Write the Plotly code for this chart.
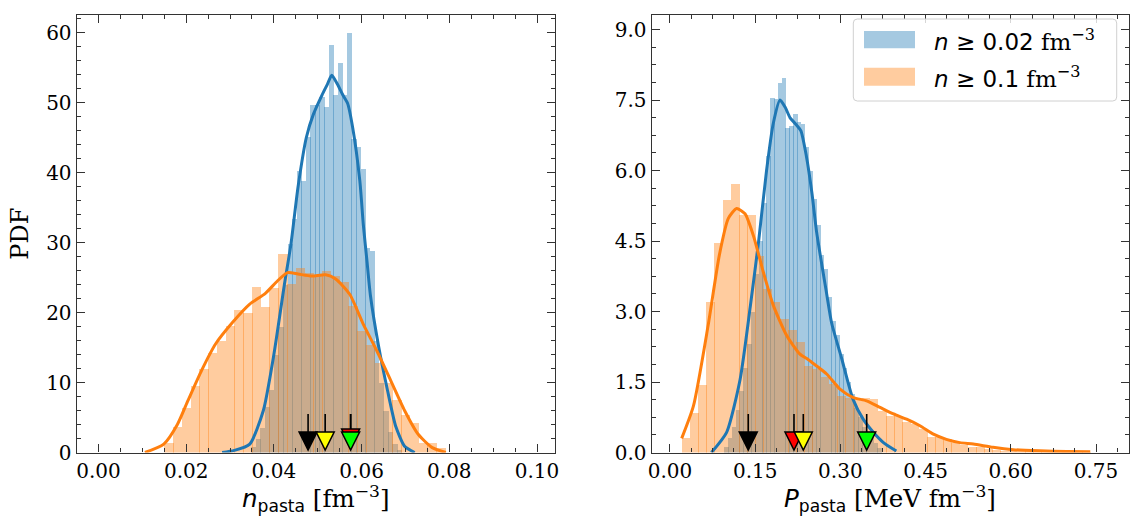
import numpy as np
import plotly.graph_objects as go

W, H = 1133, 521

# ---------------- data ----------------
# Left panel: n_pasta  (densities of histogram bins)
n_all_bin_start = 0.0348
n_all_bin_width = 0.00104
n_all_density = [0.8, 2.0, 3.5, 6.5, 9.0, 14.0, 18.0, 24.0, 29.8, 33.3, 40.2, 38.8,
                 45.1, 49.6, 49.7, 50.8, 49.3, 58.2, 51.1, 55.6, 51.1, 59.9, 44.8,
                 43.7, 40.5, 29.2, 28.8, 16.0, 10.0, 6.0, 3.0, 1.2, 0.4]
n_high_bin_start = 0.0150
n_high_bin_width = 0.0020
n_high_density = [1.3, 3.7, 6.4, 9.5, 11.9, 14.2, 16.0, 18.1, 20.4, 20.0, 23.7, 20.8,
                  23.5, 28.4, 24.1, 26.3, 25.7, 25.2, 26.0, 25.2, 24.4, 21.0, 17.4,
                  15.3, 12.8, 9.9, 7.5, 5.4, 4.2, 1.4, 1.4, 0.7]
n_all_kde_x = [0.0282, 0.0310, 0.0345, 0.0376, 0.0400, 0.0424, 0.0439, 0.0455, 0.0474,
               0.0490, 0.0510, 0.0522, 0.0532, 0.0545, 0.0557, 0.0568, 0.0580, 0.0596,
               0.0604, 0.0612, 0.0620, 0.0639, 0.0659, 0.0678, 0.0698, 0.0721]
n_all_kde_y = [0.0, 0.3, 1.2, 6.0, 14.0, 24.0, 29.8, 37.9, 45.0, 48.3, 51.1, 52.6, 53.9,
               52.6, 51.1, 49.9, 46.3, 38.8, 32.5, 27.5, 22.5, 15.1, 8.9, 3.7, 0.9, 0.0]
n_high_kde_x = [0.0106, 0.0149, 0.0180, 0.0204, 0.0235, 0.0267, 0.0306, 0.0345, 0.0380,
                0.0408, 0.0431, 0.0455, 0.0486, 0.0518, 0.0541, 0.0573, 0.0604, 0.0635,
                0.0667, 0.0698, 0.0729, 0.0761, 0.0792]
n_high_kde_y = [0.0, 1.2, 4.0, 7.4, 11.7, 15.5, 18.6, 21.2, 22.7, 24.5, 25.7, 25.5, 25.2,
                25.4, 24.8, 22.6, 18.3, 14.5, 10.2, 6.0, 2.6, 0.7, 0.0]

# Right panel: P_pasta
p_all_bin_start = 0.0953
p_all_bin_width = 0.00675
p_all_density = [0.12, 0.3, 0.55, 0.9, 1.3, 1.8, 2.3, 3.0, 3.8, 4.5, 5.3, 6.3, 7.55,
                 7.53, 7.86, 7.96, 6.9, 6.94, 7.21, 7.03, 7.0, 6.5, 6.0, 5.4, 4.84,
                 4.2, 3.9, 3.3, 2.8, 2.5, 2.1, 1.8, 1.5, 1.25, 0.95, 0.75, 0.55, 0.45,
                 0.3, 0.2, 0.1]
p_high_bin_start = 0.0206
p_high_bin_width = 0.01439
p_high_density = [0.31, 0.84, 1.44, 3.21, 4.46, 5.38, 5.72, 5.05, 5.06, 4.19, 3.48, 3.2,
                  2.84, 2.6, 2.36, 1.85, 1.77, 1.6, 1.45, 1.2, 1.17, 1.13, 1.15, 1.13,
                  0.89, 0.78, 0.78, 0.65, 0.6, 0.5, 0.32, 0.32, 0.28, 0.21, 0.16, 0.11,
                  0.11, 0.07, 0.06, 0.04, 0.04, 0.03, 0.03, 0.03, 0.02, 0.02, 0.03,
                  0.02, 0.01, 0.02]
p_all_kde_x = [0.0730, 0.0997, 0.1235, 0.1413, 0.1561, 0.1700, 0.1818, 0.1937, 0.2026,
               0.2115, 0.2204, 0.2303, 0.2402, 0.2501, 0.2580, 0.2755, 0.2847, 0.3025,
               0.3223, 0.3401, 0.3580, 0.3758, 0.3985]
p_all_kde_y = [0.0, 0.43, 1.56, 3.1, 4.5, 6.0, 7.0, 7.5, 7.35, 7.12, 7.0, 6.85, 6.3,
               5.5, 4.7, 3.4, 2.75, 1.99, 1.13, 0.71, 0.43, 0.21, 0.03]
p_high_kde_x = [0.0206, 0.0413, 0.0671, 0.0869, 0.1027, 0.1173, 0.1321, 0.1467, 0.1643,
                0.1819, 0.2054, 0.2283, 0.2432, 0.2582, 0.2758, 0.2993, 0.3227, 0.3461,
                0.3698, 0.3936, 0.4166, 0.4401, 0.4638, 0.4866, 0.5103, 0.5341, 0.5687,
                0.6043, 0.6508, 0.6983, 0.7399]
p_high_kde_y = [0.30, 0.99, 2.7, 4.2, 4.98, 5.19, 5.08, 4.62, 3.84, 3.13, 2.49, 2.1,
                1.98, 1.84, 1.67, 1.35, 1.17, 1.1, 0.96, 0.82, 0.71, 0.57, 0.39, 0.28,
                0.21, 0.18, 0.11, 0.06, 0.035, 0.02, 0.015]

# Reference-model markers (black, red, yellow, green)
marker_colors = ["black", "red", "yellow", "#00ff00"]
n_markers = [0.0478, 0.0575, 0.0517, 0.0575]
p_markers = [0.1378, 0.2183, 0.2347, 0.3463]

legend_labels = ['<span style="font-family:DejaVu Sans"><i>n</i> ≥ 0.02</span> fm<sup>−3</sup>',
                 '<span style="font-family:DejaVu Sans"><i>n</i> ≥ 0.1</span> fm<sup>−3</sup>']

# ---------------- geometry / style ----------------
BLUE = "#1f77b4"
ORANGE = "#ff7f0e"
BLUE_A = "rgba(31,119,180,0.4)"
ORANGE_A = "rgba(255,127,14,0.4)"

def fx(px):
    return px / W

def fy(py):
    return 1 - py / H

Y_TOP, Y_BOT = 15, 452.5
L_X0, L_X1 = 76.7, 555.0
R_X0, R_X1 = 651.7, 1129.0
L_RANGE = [-0.00496, 0.1041]
R_RANGE = [-0.0322, 0.8081]
L_YRANGE = [0, (Y_BOT - Y_TOP) / 7.0]
R_YRANGE = [0, (Y_BOT - Y_TOP) / 47.0]

fig = go.Figure()


def add_hist(start, width, dens, color, xa, ya, pxunit):
    centers = start + width * (np.arange(len(dens)) + 0.5)
    fig.add_trace(go.Bar(x=centers, y=dens, width=width + 0.6 / pxunit,
                         marker=dict(color=color, line=dict(width=0)),
                         xaxis=xa, yaxis=ya, showlegend=False, hoverinfo="skip"))


def add_kde(xs, ys, color, xa, ya):
    fig.add_trace(go.Scatter(x=xs, y=ys, mode="lines", line=dict(color=color, width=3, shape="spline", smoothing=0.6),
                             xaxis=xa, yaxis=ya, showlegend=False, hoverinfo="skip"))

lpx = (L_X1 - L_X0) / (L_RANGE[1] - L_RANGE[0])
rpx = (R_X1 - R_X0) / (R_RANGE[1] - R_RANGE[0])

add_hist(n_all_bin_start, n_all_bin_width, n_all_density, BLUE_A, "x", "y", lpx)
add_kde(n_all_kde_x, n_all_kde_y, BLUE, "x", "y")
add_hist(n_high_bin_start, n_high_bin_width, n_high_density, ORANGE_A, "x", "y", lpx)
add_kde(n_high_kde_x, n_high_kde_y, ORANGE, "x", "y")

add_hist(p_all_bin_start, p_all_bin_width, p_all_density, BLUE_A, "x2", "y2", rpx)
add_kde(p_all_kde_x, p_all_kde_y, BLUE, "x2", "y2")
add_hist(p_high_bin_start, p_high_bin_width, p_high_density, ORANGE_A, "x2", "y2", rpx)
add_kde(p_high_kde_x, p_high_kde_y, ORANGE, "x2", "y2")

shapes = []
for xref, yref, vals in (("x", "y", n_markers), ("x2", "y2", p_markers)):
    for i, (v, c) in enumerate(zip(vals, marker_colors)):
        lift = 3 if (xref == "x" and c == "red") else 0
        shapes.append(dict(type="line", xref=xref, yref=yref, xsizemode="pixel", ysizemode="pixel",
                           xanchor=v, yanchor=0, x0=0, x1=0, y0=11.5 + lift, y1=38.5,
                           line=dict(color="black", width=1.6), layer="above"))
    for i, (v, c) in enumerate(zip(vals, marker_colors)):
        lift = 3 if (xref == "x" and c == "red") else 0
        b = 2.5 + lift
        t = 20.5 + lift
        shapes.append(dict(type="path", xref=xref, yref=yref, xsizemode="pixel", ysizemode="pixel",
                           xanchor=v, yanchor=0,
                           path=f"M-9,{t} L9,{t} L0,{b} Z",
                           fillcolor=c, line=dict(color="black", width=1.5), layer="above"))

# Legend box (rounded)
lx0, ly0, lx1, ly1, r = 853.3, 19, 1116.7, 101, 4
rx, ry = r / W, r / H
p = (f"M{fx(lx0)+rx},{fy(ly0)} L{fx(lx1)-rx},{fy(ly0)} Q{fx(lx1)},{fy(ly0)} {fx(lx1)},{fy(ly0)-ry} "
     f"L{fx(lx1)},{fy(ly1)+ry} Q{fx(lx1)},{fy(ly1)} {fx(lx1)-rx},{fy(ly1)} "
     f"L{fx(lx0)+rx},{fy(ly1)} Q{fx(lx0)},{fy(ly1)} {fx(lx0)},{fy(ly1)+ry} "
     f"L{fx(lx0)},{fy(ly0)-ry} Q{fx(lx0)},{fy(ly0)} {fx(lx0)+rx},{fy(ly0)} Z")
shapes.append(dict(type="path", xref="paper", yref="paper", path=p,
                   fillcolor="rgba(255,255,255,0.8)", line=dict(color="#d0d0d0", width=1), layer="above"))
for (y0, y1), col in (((31, 48.3), BLUE_A), ((67.7, 85.7), ORANGE_A)):
    shapes.append(dict(type="rect", xref="paper", yref="paper", x0=fx(864), x1=fx(915),
                       y0=fy(y1), y1=fy(y0), fillcolor=col, line=dict(width=0), layer="above"))

annotations = []
for lab, yc in zip(legend_labels, (40, 76.7)):
    annotations.append(dict(text=lab, xref="paper", yref="paper", x=fx(932), y=fy(yc),
                            xanchor="left", yanchor="middle", showarrow=False,
                            font=dict(family="DejaVu Serif", size=23, color="black")))
annotations.append(dict(text="PDF", xref="paper", yref="paper", x=fx(20), y=fy(233.7),
                        textangle=-90, xanchor="center", yanchor="middle", showarrow=False,
                        font=dict(family="DejaVu Serif", size=24, color="black")))
annotations.append(dict(text='<span style="font-family:DejaVu Sans"><i>n</i><sub>pasta</sub></span> [fm<sup>−3</sup>]',
                        xref="paper", yref="paper", x=fx((L_X0 + L_X1) / 2), y=fy(498),
                        xanchor="center", yanchor="middle", showarrow=False,
                        font=dict(family="DejaVu Serif", size=24.5, color="black")))
annotations.append(dict(text='<span style="font-family:DejaVu Sans"><i>P</i><sub>pasta</sub></span> [MeV fm<sup>−3</sup>]',
                        xref="paper", yref="paper", x=fx((R_X0 + R_X1) / 2), y=fy(498),
                        xanchor="center", yanchor="middle", showarrow=False,
                        font=dict(family="DejaVu Serif", size=24.5, color="black")))

SPINE = "#333333"

def axis(domain, rng, dtick, minor_dtick, fmt, anchor):
    return dict(domain=domain, range=rng, dtick=dtick, tick0=0, tickformat=fmt,
                showline=True, linecolor=SPINE, linewidth=1.2, mirror="allticks",
                ticks="inside", ticklen=8, tickwidth=1.3, tickcolor=SPINE,
                showgrid=False, zeroline=False, anchor=anchor, automargin=False,
                tickfont=dict(family="DejaVu Serif", size=20, color="black"),
                minor=dict(dtick=minor_dtick, tick0=0, ticks="inside", ticklen=4,
                           tickwidth=1, tickcolor=SPINE, showgrid=False))

fig.update_layout(
    width=W, height=H, margin=dict(l=0, r=0, t=0, b=0, pad=0, autoexpand=False),
    paper_bgcolor="white", plot_bgcolor="white", barmode="overlay", bargap=0,
    showlegend=False,
    xaxis=axis([fx(L_X0), fx(L_X1)], L_RANGE, 0.02, 0.005, ".2f", "y"),
    yaxis=axis([fy(Y_BOT), fy(Y_TOP)], L_YRANGE, 10, 2, "d", "x"),
    xaxis2=axis([fx(R_X0), fx(R_X1)], R_RANGE, 0.15, 0.0375, ".2f", "y2"),
    yaxis2=axis([fy(Y_BOT), fy(Y_TOP)], R_YRANGE, 1.5, 0.375, ".1f", "x2"),
    shapes=shapes, annotations=annotations,
)

fig.write_html("out.html", config={"displayModeBar": False},
               post_script="document.body.style.margin='0px';")
